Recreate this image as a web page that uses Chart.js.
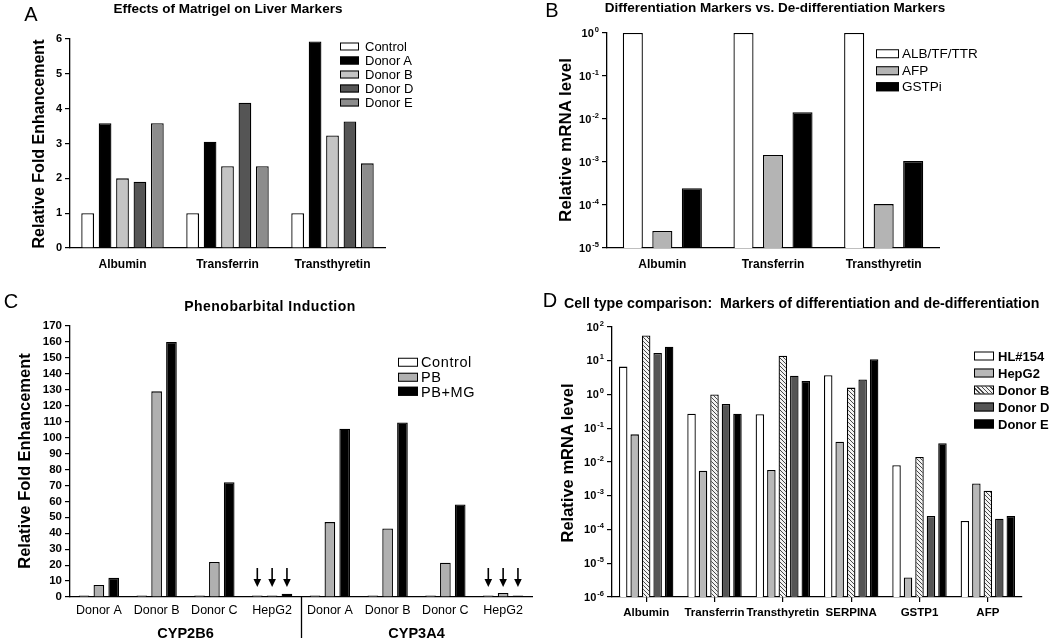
<!DOCTYPE html>
<html><head><meta charset="utf-8">
<script src="https://cdn.jsdelivr.net/npm/chart.js@4.4.1/dist/chart.umd.min.js"></script>
<style>
body{margin:0;width:1050px;height:638px;position:relative;background:#fff;font-family:'Liberation Sans',Arial,sans-serif;color:#000;overflow:hidden}
canvas{position:absolute}
.t{position:absolute;white-space:nowrap;transform:translate(-50%,-50%);line-height:1}
.tl{position:absolute;white-space:nowrap;transform:translateY(-50%);line-height:1}
.yt{position:absolute;white-space:nowrap;transform:translate(-50%,-50%) rotate(-90deg);font-weight:bold;line-height:1}
.row{position:absolute;display:flex;align-items:center;white-space:nowrap;transform:translateY(-50%);line-height:1}
.sw{display:inline-block;box-sizing:border-box;border:1.5px solid #000}
.letter{font-size:20px;font-weight:normal}
.ttl{font-size:13.5px;font-weight:bold}
</style></head><body>
<canvas id="cA" width="470" height="290" style="left:0;top:0;width:470px;height:290px"></canvas>
<canvas id="cB" width="570" height="290" style="left:480px;top:0;width:570px;height:290px"></canvas>
<canvas id="cC" width="536" height="348" style="left:0;top:290px;width:536px;height:348px"></canvas>
<canvas id="cD" width="514" height="348" style="left:536px;top:290px;width:514px;height:348px"></canvas>

<div class="t letter" style="left:31px;top:14px">A</div>
<div class="t ttl" style="left:228px;top:9px">Effects of Matrigel on Liver Markers</div>
<div class="yt" style="left:39px;top:144px;font-size:16px">Relative Fold Enhancement</div>

<div class="t letter" style="left:552px;top:10px">B</div>
<div class="t ttl" style="left:775px;top:8px">Differentiation Markers vs. De-differentiation Markers</div>
<div class="yt" style="left:565px;top:140px;font-size:17px">Relative mRNA level</div>

<div class="t letter" style="left:11px;top:301px">C</div>
<div class="t ttl" style="left:270px;top:306px;font-size:14px;letter-spacing:0.5px">Phenobarbital Induction</div>
<div class="yt" style="left:24px;top:461px;font-size:16.5px">Relative Fold Enhancement</div>
<div id="cGeneLabels"></div>

<div class="t letter" style="left:550px;top:300px">D</div>
<div class="tl ttl" style="left:564px;top:303px;font-size:14.2px">Cell type comparison:&nbsp; Markers of differentiation and de-differentiation</div>
<div class="yt" style="left:567px;top:463px;font-size:16.5px">Relative mRNA level</div>

<div id="legends"></div>

<script>
// ---------------- DATA ----------------
// Panel A
const aCategories = ['Albumin', 'Transferrin', 'Transthyretin'];
const aSeries = ['Control', 'Donor A', 'Donor B', 'Donor D', 'Donor E'];
const aControl = [1, 1, 1];
const aDonorA = [3.58, 3.05, 5.93];
const aDonorB = [2.0, 2.35, 3.23];
const aDonorD = [1.9, 4.17, 3.63];
const aDonorE = [3.58, 2.35, 2.43];
const aTicks = [0, 1, 2, 3, 4, 5, 6];

// Panel B
const bCategories = ['Albumin', 'Transferrin', 'Transthyretin'];
const bSeries = ['ALB/TF/TTR', 'AFP', 'GSTPi'];
const bAlbTfTtr = [1, 1, 1];
const bAfp = [2.5e-5, 1.45e-3, 1.05e-4];
const bGstpi = [2.45e-4, 1.44e-2, 1.05e-3];
const bExponents = [0, -1, -2, -3, -4, -5];

// Panel C
const cCategories = ['Donor A', 'Donor B', 'Donor C', 'HepG2', 'Donor A', 'Donor B', 'Donor C', 'HepG2'];
const cGenes = ['CYP2B6', 'CYP3A4'];
const cSeries = ['Control', 'PB', 'PB+MG'];
const cControl = [1, 1, 1, 1, 1, 1, 1, 1];
const cPB = [7.5, 129, 22, 1, 47, 43, 21.5, 2.5];
const cPBMG = [12, 160, 72, 2, 105.5, 109.5, 58, 1];
const cTickMax = 170;
const cTickStep = 10;
const cArrowCategories = ['HepG2'];

// Panel D
const dCategories = ['Albumin', 'Transferrin', 'Transthyretin', 'SERPINA', 'GSTP1', 'AFP'];
const dSeries = ['HL#154', 'HepG2', 'Donor B', 'Donor D', 'Donor E'];
const dHL154 = [6.7, 0.27, 0.26, 3.7, 0.008, 1.8e-4];
const dHepG2 = [0.066, 0.0055, 0.0058, 0.04, 3.8e-6, 2.3e-3];
const dDonorB = [56, 1.0, 14, 1.6, 0.014, 1.4e-3];
const dDonorD = [17, 0.52, 3.6, 2.8, 2.5e-4, 2.1e-4];
const dDonorE = [26, 0.27, 2.5, 11, 0.036, 2.5e-4];
const dExponents = [2, 1, 0, -1, -2, -3, -4, -5, -6];

// ---------------- STYLES ----------------
const FONT = "'Liberation Sans', Arial, sans-serif";
Chart.defaults.font.family = FONT;
Chart.defaults.color = '#000';

const aColors = ['#ffffff', '#000000', '#c4c4c4', '#555555', '#8c8c8c'];
const bColors = ['#ffffff', '#b4b4b4', '#000000'];
const cColors = ['#ffffff', '#b0b0b0', '#000000'];

function hatchPattern() {
  const p = document.createElement('canvas');
  p.width = 4; p.height = 4;
  const g = p.getContext('2d');
  g.fillStyle = '#f2f2f2'; g.fillRect(0, 0, 4, 4);
  g.strokeStyle = '#4a4a4a'; g.lineWidth = 1;
  g.beginPath();
  g.moveTo(-1, -1); g.lineTo(5, 5);
  g.moveTo(-1, 3); g.lineTo(1, 5);
  g.moveTo(3, -1); g.lineTo(5, 1);
  g.stroke();
  return g.createPattern(p, 'repeat');
}
const dColors = ['#ffffff', '#b8b8b8', hatchPattern(), '#555555', '#000000'];
const dLegendCss = ['#ffffff', '#b8b8b8', 'repeating-linear-gradient(45deg,#4a4a4a 0 1px,#f2f2f2 1px 3px)', '#555555', '#000000'];

function fixedAxis(size) {
  return s => { if (s.isHorizontal()) s.height = size; else s.width = size; };
}
function ds(label, data, color, border) {
  return { label, data, backgroundColor: color, borderColor: '#000', borderWidth: border || 1.3, borderSkipped: 'start' };
}
const noTicksGrid = { display: false, drawTicks: false };
const tickGrid = { display: true, drawOnChartArea: false, drawTicks: true, tickLength: 5, color: '#000', lineWidth: 1.2 };
const axisBorder = { display: true, color: '#000', width: 1.3 };

function baseOptions(padding) {
  return {
    responsive: false, animation: false, events: [],
    layout: { padding },
    plugins: { legend: { display: false }, title: { display: false }, tooltip: { enabled: false } },
  };
}

// Power-of-ten tick labels ("10" with a raised exponent), drawn at the log scale's own tick positions
const powTicks = {
  id: 'powTicks',
  afterDraw(chart) {
    const y = chart.scales.y;
    const ctx = chart.ctx;
    const right = chart.chartArea.left - 8;
    ctx.save();
    ctx.fillStyle = '#000';
    ctx.textBaseline = 'middle';
    ctx.textAlign = 'right';
    y.ticks.forEach(t => {
      const e = Math.round(Math.log10(t.value));
      const py = y.getPixelForValue(t.value);
      const sup = String(e);
      ctx.font = 'bold 7.5px ' + FONT;
      const w = ctx.measureText(sup).width;
      ctx.fillText(sup, right, py - 3.5);
      ctx.font = 'bold 11px ' + FONT;
      ctx.fillText('10', right - w - 1, py + 0.5);
    });
    ctx.restore();
  }
};
function logAxis(exps) {
  return {
    type: 'logarithmic', min: Math.pow(10, exps[exps.length - 1]), max: Math.pow(10, exps[0]),
    grid: tickGrid, border: axisBorder, afterFit: fixedAxis(40),
    afterBuildTicks: s => { s.ticks = exps.map(e => ({ value: Math.pow(10, e) })); },
    ticks: { display: false, autoSkip: false }
  };
}

// ---------------- PANEL A ----------------
const optA = baseOptions({ left: 30, right: 85, top: 39, bottom: 12 });
optA.datasets = { bar: { categoryPercentage: 0.83, barPercentage: 0.73 } };
optA.scales = {
  x: { grid: noTicksGrid, border: axisBorder, afterFit: fixedAxis(30),
       ticks: { font: { weight: 'bold', size: 12 }, padding: 9, maxRotation: 0 } },
  y: { min: aTicks[0], max: aTicks[aTicks.length - 1], grid: tickGrid, border: axisBorder, afterFit: fixedAxis(40),
       afterBuildTicks: s => { s.ticks = aTicks.map(v => ({ value: v })); },
       ticks: { font: { weight: 'bold', size: 11 }, padding: 3 } }
};
new Chart(document.getElementById('cA'), {
  type: 'bar',
  data: { labels: aCategories, datasets: [aControl, aDonorA, aDonorB, aDonorD, aDonorE].map((d, i) => ds(aSeries[i], d, aColors[i])) },
  options: optA
});

// ---------------- PANEL B ----------------
const optB = baseOptions({ left: 87, right: 111, top: 33, bottom: 12 });
optB.datasets = { bar: { categoryPercentage: 0.8, barPercentage: 0.68 } };
optB.scales = {
  x: { grid: noTicksGrid, border: axisBorder, afterFit: fixedAxis(30),
       ticks: { font: { weight: 'bold', size: 12 }, padding: 9, maxRotation: 0 } },
  y: logAxis(bExponents)
};
new Chart(document.getElementById('cB'), {
  type: 'bar',
  data: { labels: bCategories, datasets: [bAlbTfTtr, bAfp, bGstpi].map((d, i) => ds(bSeries[i], d, bColors[i])) },
  options: optB,
  plugins: [powTicks]
});

// ---------------- PANEL C ----------------
const cExtras = {
  id: 'cExtras',
  afterDatasetsDraw(chart) {
    const { ctx, chartArea, scales: { x, y } } = chart;
    const half = cCategories.length / cGenes.length;
    ctx.save();
    ctx.strokeStyle = '#000'; ctx.fillStyle = '#000'; ctx.lineWidth = 1.3;
    for (let g = 1; g < cGenes.length; g++) {
      const sx = Math.round((x.getPixelForTick(g * half - 1) + x.getPixelForTick(g * half)) / 2) + 0.5;
      ctx.beginPath(); ctx.moveTo(sx, chartArea.bottom); ctx.lineTo(sx, chart.height); ctx.stroke();
    }
    const tip = y.getPixelForValue(0) - 10;
    cCategories.forEach((c, i) => {
      if (!cArrowCategories.includes(c)) return;
      chart.data.datasets.forEach((d, di) => {
        const bx = chart.getDatasetMeta(di).data[i].x;
        ctx.lineWidth = 1.6;
        ctx.beginPath(); ctx.moveTo(bx, tip - 19); ctx.lineTo(bx, tip - 6); ctx.stroke();
        ctx.beginPath(); ctx.moveTo(bx - 3.8, tip - 8); ctx.lineTo(bx + 3.8, tip - 8); ctx.lineTo(bx, tip); ctx.closePath(); ctx.fill();
      });
    });
    ctx.restore();
  }
};
const cTicks = [];
for (let v = 0; v <= cTickMax; v += cTickStep) cTicks.push(v);
const optC = baseOptions({ left: 30, right: 4, top: 36, bottom: 0 });
optC.datasets = { bar: { categoryPercentage: 0.77, barPercentage: 0.72 } };
optC.scales = {
  x: { grid: noTicksGrid, border: axisBorder, afterFit: fixedAxis(41),
       ticks: { font: { weight: 'normal', size: 12.5 }, padding: 6, maxRotation: 0, autoSkip: false } },
  y: { min: 0, max: cTickMax, grid: tickGrid, border: axisBorder, afterFit: fixedAxis(40),
       afterBuildTicks: s => { s.ticks = cTicks.map(v => ({ value: v })); },
       ticks: { font: { weight: 'bold', size: 11.5 }, padding: 3, autoSkip: false } }
};
const chartC = new Chart(document.getElementById('cC'), {
  type: 'bar',
  data: { labels: cCategories, datasets: [cControl, cPB, cPBMG].map((d, i) => ds(cSeries[i], d, cColors[i])) },
  options: optC,
  plugins: [cExtras]
});
// gene group labels under the C axis, positioned from the chart's own scale
(function () {
  const x = chartC.scales.x;
  const half = cCategories.length / cGenes.length;
  const holder = document.getElementById('cGeneLabels');
  cGenes.forEach((g, gi) => {
    const cx = (x.getPixelForTick(gi * half) + x.getPixelForTick(gi * half + half - 1)) / 2;
    const el = document.createElement('div');
    el.className = 't';
    el.style.left = cx + 'px';
    el.style.top = '633px';
    el.style.fontWeight = 'bold';
    el.style.fontSize = '14.5px';
    el.textContent = g;
    holder.appendChild(el);
  });
})();

// ---------------- PANEL D ----------------
const optD = baseOptions({ left: 36, right: 28, top: 37, bottom: 0 });
optD.datasets = { bar: { categoryPercentage: 0.84, barPercentage: 0.74 } };
optD.scales = {
  x: { grid: { display: true, drawOnChartArea: false, drawTicks: true, tickLength: 5, color: '#000', lineWidth: 1.2, offset: false },
       border: axisBorder, afterFit: fixedAxis(41),
       ticks: { font: { weight: 'bold', size: 11.5 }, padding: 4, maxRotation: 0, autoSkip: false } },
  y: logAxis(dExponents)
};
new Chart(document.getElementById('cD'), {
  type: 'bar',
  data: { labels: dCategories, datasets: [dHL154, dHepG2, dDonorB, dDonorD, dDonorE].map((d, i) => ds(dSeries[i], d, dColors[i])) },
  options: optD,
  plugins: [powTicks]
});

// ---------------- LEGENDS (HTML text) ----------------
function buildLegend(series, fills, left, firstY, step, swW, swH, textStyle) {
  const holder = document.getElementById('legends');
  series.forEach((name, i) => {
    const row = document.createElement('div');
    row.className = 'row';
    row.style.left = left + 'px';
    row.style.top = (firstY + i * step) + 'px';
    const sw = document.createElement('span');
    sw.className = 'sw';
    sw.style.width = swW + 'px';
    sw.style.height = swH + 'px';
    sw.style.background = fills[i];
    const tx = document.createElement('span');
    tx.textContent = name;
    Object.assign(tx.style, textStyle);
    row.appendChild(sw); row.appendChild(tx);
    holder.appendChild(row);
  });
}
buildLegend(aSeries, aColors, 340, 46, 14, 19, 8, { fontSize: '13px', marginLeft: '6px' });
buildLegend(bSeries, bColors, 876, 54, 16.5, 23, 9, { fontSize: '13.5px', marginLeft: '3px' });
buildLegend(cSeries, cColors, 398, 362, 14.8, 20, 9, { fontSize: '14.5px', marginLeft: '3px', letterSpacing: '0.6px' });
buildLegend(dSeries, dLegendCss, 974, 356, 17, 20, 9, { fontSize: '13px', fontWeight: 'bold', marginLeft: '4px' });
</script>
</body></html>
